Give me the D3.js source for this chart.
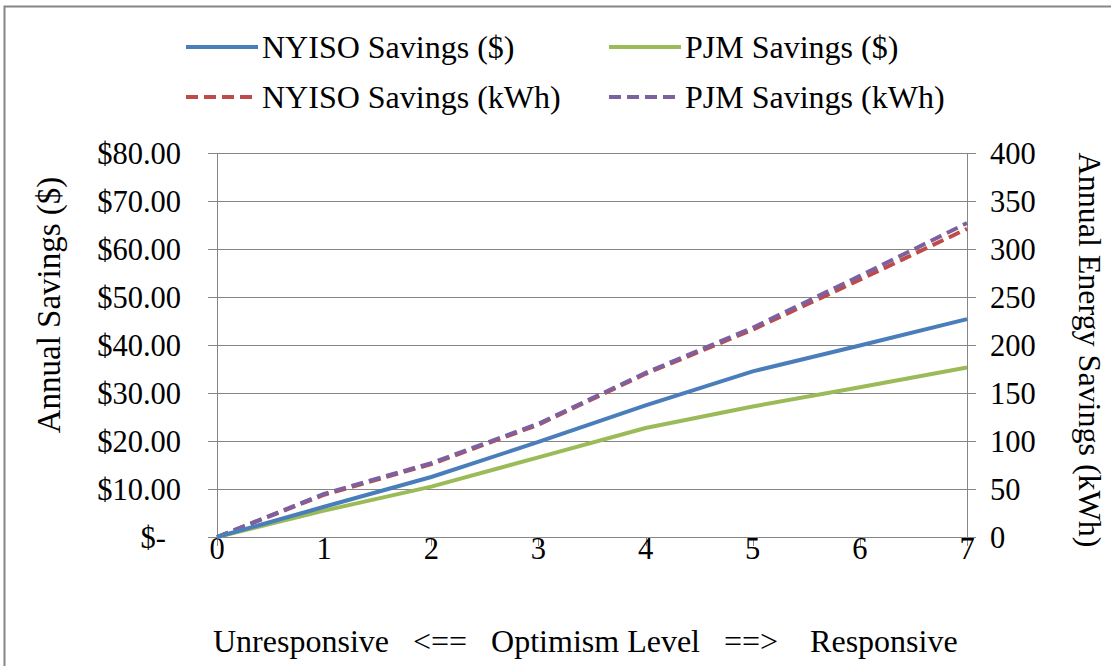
<!DOCTYPE html>
<html><head><meta charset="utf-8">
<script src="https://cdn.jsdelivr.net/npm/d3@7/dist/d3.min.js"></script>
<style>
html,body{margin:0;padding:0;background:#fff;}
svg{display:block;}
svg text{font-family:"Liberation Serif","Times New Roman",serif;fill:#000;}
</style>
</head><body>
<svg id="c" width="1111" height="666"></svg>
<script>
const levels = [0, 1, 2, 3, 4, 5, 6, 7];
const nyisoDollars = [0, 6.3, 12.5, 19.8, 27.4, 34.5, 39.9, 45.4];
const pjmDollars = [0, 5.5, 10.5, 16.6, 22.7, 27.2, 31.2, 35.3];
const nyisoKwh = [0, 44, 76, 117, 170, 216, 268, 321];
const pjmKwh = [0, 45, 77, 118, 171, 218, 272, 327];
const leftTicks = [0, 10, 20, 30, 40, 50, 60, 70, 80];
const rightTicks = [0, 50, 100, 150, 200, 250, 300, 350, 400];
const seriesNames = ["NYISO Savings ($)", "PJM Savings ($)", "NYISO Savings (kWh)", "PJM Savings (kWh)"];
const xTitle = "Unresponsive   <==   Optimism Level   ==>    Responsive";
const yLeftTitle = "Annual Savings ($)";
const yRightTitle = "Annual Energy Savings (kWh)";

const svg = d3.select("#c");
const grid = "#868686";
const cBlue = "#4A7EBB", cGreen = "#9BBB59", cRed = "#BE4B48", cPurple = "#7D60A0";
const tickFS = 30.5, titleFS = 32;

// outer frame
svg.append("rect").attr("x", 4.5).attr("y", 6.5).attr("width", 1120).attr("height", 700)
  .attr("fill", "none").attr("stroke", grid).attr("stroke-width", 2);

const L = 217, R = 967, T = 153, B = 537;
const x = d3.scaleLinear().domain([0, 7]).range([L, R]);
const yL = d3.scaleLinear().domain([0, 80]).range([B, T]);
const yR = d3.scaleLinear().domain([0, 400]).range([B, T]);

// gridlines (with outward tick extensions)
svg.append("g").selectAll("line").data(leftTicks).join("line")
  .attr("x1", L - 9).attr("x2", R + 9)
  .attr("y1", d => Math.round(yL(d)) + 0.5).attr("y2", d => Math.round(yL(d)) + 0.5)
  .attr("stroke", grid).attr("stroke-width", 1);
[L, R].forEach(px => svg.append("line").attr("x1", px + 0.5).attr("x2", px + 0.5)
  .attr("y1", T).attr("y2", B + 9).attr("stroke", grid).attr("stroke-width", 1));
svg.append("g").selectAll("line").data(levels).join("line")
  .attr("x1", d => Math.round(x(d)) + 0.5).attr("x2", d => Math.round(x(d)) + 0.5)
  .attr("y1", B).attr("y2", B + 9).attr("stroke", grid);

// x tick labels
svg.append("g").selectAll("text").data(levels).join("text")
  .attr("x", d => x(d)).attr("y", 559).attr("text-anchor", "middle")
  .attr("font-size", tickFS).text(d => d);

// left tick labels (accounting style)
svg.append("g").selectAll("text").data(leftTicks).join("text")
  .attr("x", d => d === 0 ? 166 : 181).attr("y", d => yL(d) + 10.5)
  .attr("text-anchor", "end").attr("font-size", tickFS)
  .text(d => d === 0 ? "$-" : "$" + d3.format(".2f")(d));

// right tick labels
svg.append("g").selectAll("text").data(rightTicks).join("text")
  .attr("x", 990).attr("y", d => yR(d) + 10.5)
  .attr("font-size", tickFS).text(d => d);

// axis titles
svg.append("text").attr("transform", `translate(60,305) rotate(-90)`)
  .attr("text-anchor", "middle").attr("font-size", 33).text(yLeftTitle);
svg.append("text").attr("transform", `translate(1079,350) rotate(90)`)
  .attr("text-anchor", "middle").attr("font-size", titleFS).text(yRightTitle);
svg.append("text").attr("x", 213).attr("y", 652).attr("text-anchor", "start")
  .attr("font-size", titleFS).style("white-space", "pre")
  .attr("xml:space", "preserve").text(xTitle);

// lines
const lineL = d3.line().x((d, i) => x(levels[i])).y(d => yL(d));
const lineR = d3.line().x((d, i) => x(levels[i])).y(d => yR(d));
const series = [
  {vals: nyisoKwh, gen: lineR, color: cRed, dash: "12,6"},
  {vals: pjmKwh, gen: lineR, color: cPurple, dash: "12,6"},
  {vals: pjmDollars, gen: lineL, color: cGreen, dash: null},
  {vals: nyisoDollars, gen: lineL, color: cBlue, dash: null}
];
series.forEach(s => {
  svg.append("path").attr("d", s.gen(s.vals)).attr("fill", "none")
    .attr("stroke", s.color).attr("stroke-width", 4).attr("stroke-linejoin", "round")
    .attr("stroke-dasharray", s.dash);
});

// legend
const leg = [
  {name: seriesNames[0], color: cBlue, dash: null, x: 186, y: 47},
  {name: seriesNames[1], color: cGreen, dash: null, x: 609, y: 47},
  {name: seriesNames[2], color: cRed, dash: "12,6", x: 186, y: 97},
  {name: seriesNames[3], color: cPurple, dash: "12,6", x: 609, y: 97}
];
leg.forEach(l => {
  svg.append("line").attr("x1", l.x).attr("x2", l.x + 72).attr("y1", l.y).attr("y2", l.y)
    .attr("stroke", l.color).attr("stroke-width", 4).attr("stroke-dasharray", l.dash);
  svg.append("text").attr("x", l.x + 76).attr("y", l.y + 11).attr("font-size", titleFS)
    .text(l.name);
});
</script>
</body></html>
